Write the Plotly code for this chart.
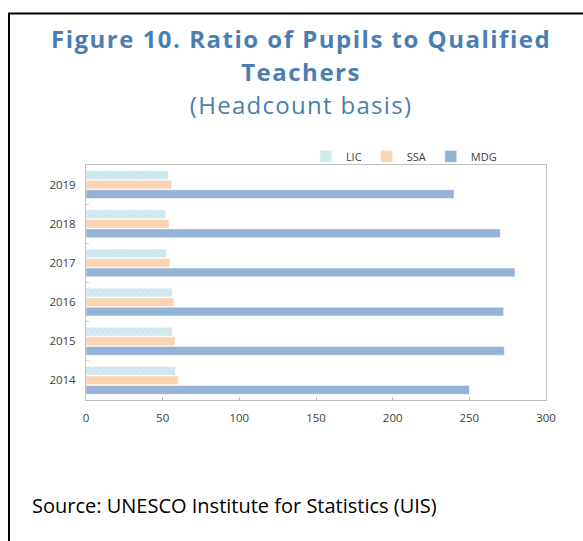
import plotly.graph_objects as go

# Pupil-to-qualified-teacher ratios (headcount basis)
years = ["2014", "2015", "2016", "2017", "2018", "2019"]
lic = [58.2, 56.2, 56.2, 52.5, 52.0, 53.5]
ssa = [60.1, 58.0, 57.3, 54.7, 54.2, 55.8]
mdg = [250.0, 272.8, 272.4, 279.8, 270.2, 240.0]
x_ticks = [0, 50, 100, 150, 200, 250, 300]

FONT = "Open Sans"
TITLE_BLUE = "#4a7eb0"

fig = go.Figure()
# Horizontal grouped bars stack first trace at the bottom of each group,
# so MDG goes in first to sit under SSA and LIC.
fig.add_trace(go.Bar(
    y=years, x=mdg, name="MDG", orientation="h",
    marker=dict(color="#95b3d7", line=dict(color="#ffffff", width=0.5)),
    legendrank=3,
))
fig.add_trace(go.Bar(
    y=years, x=ssa, name="SSA", orientation="h",
    marker=dict(color="#fbd4b4", line=dict(color="#ffffff", width=0.5)),
    legendrank=2,
))
fig.add_trace(go.Bar(
    y=years, x=lic, name="LIC", orientation="h",
    marker=dict(
        color="#d2eaf1",
        line=dict(color="#ffffff", width=0.5),
        pattern=dict(shape="x", fgcolor="#eaf6f9", bgcolor="#cbe6ee",
                     size=4, solidity=0.3),
    ),
    legendrank=1,
))

fig.update_layout(
    width=583, height=541,
    margin=dict(l=86, r=37, t=165, b=141),
    paper_bgcolor="white", plot_bgcolor="white",
    barmode="group", bargap=0.27, bargroupgap=0.08,
    font=dict(family=FONT, size=12, color="#404040"),
    showlegend=True,
    legend=dict(
        orientation="h", x=0.478, y=0.975, xanchor="left", yanchor="bottom",
        font=dict(family=FONT, size=11, color="#404040"),
        itemwidth=30, bgcolor="rgba(0,0,0,0)",
        traceorder="normal", tracegroupgap=0,
    ),
    xaxis=dict(
        range=[0, 300], tickvals=x_ticks, ticktext=[str(v) for v in x_ticks],
        showgrid=False, zeroline=False,
        showline=True, linecolor="#bfbfbf", linewidth=1, mirror=True,
        ticks="inside", ticklen=3, tickcolor="#bfbfbf",
        tickfont=dict(family=FONT, size=11.5, color="#404040"),
        ticklabelstandoff=7,
        fixedrange=True,
    ),
    yaxis=dict(
        type="category", categoryorder="array", categoryarray=years,
        showgrid=False, zeroline=False,
        showline=True, linecolor="#bfbfbf", linewidth=1, mirror=True,
        ticks="inside", ticklen=3, tickcolor="#d0d0d0", tickson="boundaries",
        tickfont=dict(family=FONT, size=11.5, color="#404040"),
        ticklabelstandoff=7,
        fixedrange=True,
    ),
)

# Framed box around the figure (left and top edges visible)
fig.add_shape(type="rect", xref="paper", yref="paper",
              x0=-0.1674, x1=1.2, y0=-0.9, y1=1.645,
              line=dict(color="#000000", width=2), fillcolor="rgba(0,0,0,0)",
              layer="below")

# Three-line title in one block; base size sets the line pitch
title_text = (
    "<b><span style='font-size:24px;letter-spacing:1.5px'>"
    "Figure 10. Ratio of Pupils to Qualified</span></b>"
    "<br><b><span style='font-size:24px;letter-spacing:1.5px'>Teachers</span></b>"
    "<br><span style='font-size:24px;letter-spacing:1.3px'>(Headcount basis)</span>"
)
fig.add_annotation(text=title_text,
                   xref="paper", yref="paper", x=0.467, y=1.396,
                   xanchor="center", yanchor="middle", align="center",
                   showarrow=False,
                   font=dict(family=FONT, size=25.2, color=TITLE_BLUE))
fig.add_annotation(text="Source: UNESCO Institute for Statistics (UIS)",
                   xref="paper", yref="paper", x=-0.1217, y=-0.451,
                   xanchor="left", yanchor="middle", showarrow=False,
                   font=dict(family=FONT, size=20, color="#000000"))

fig.write_html("out.html", config={"displayModeBar": False})
